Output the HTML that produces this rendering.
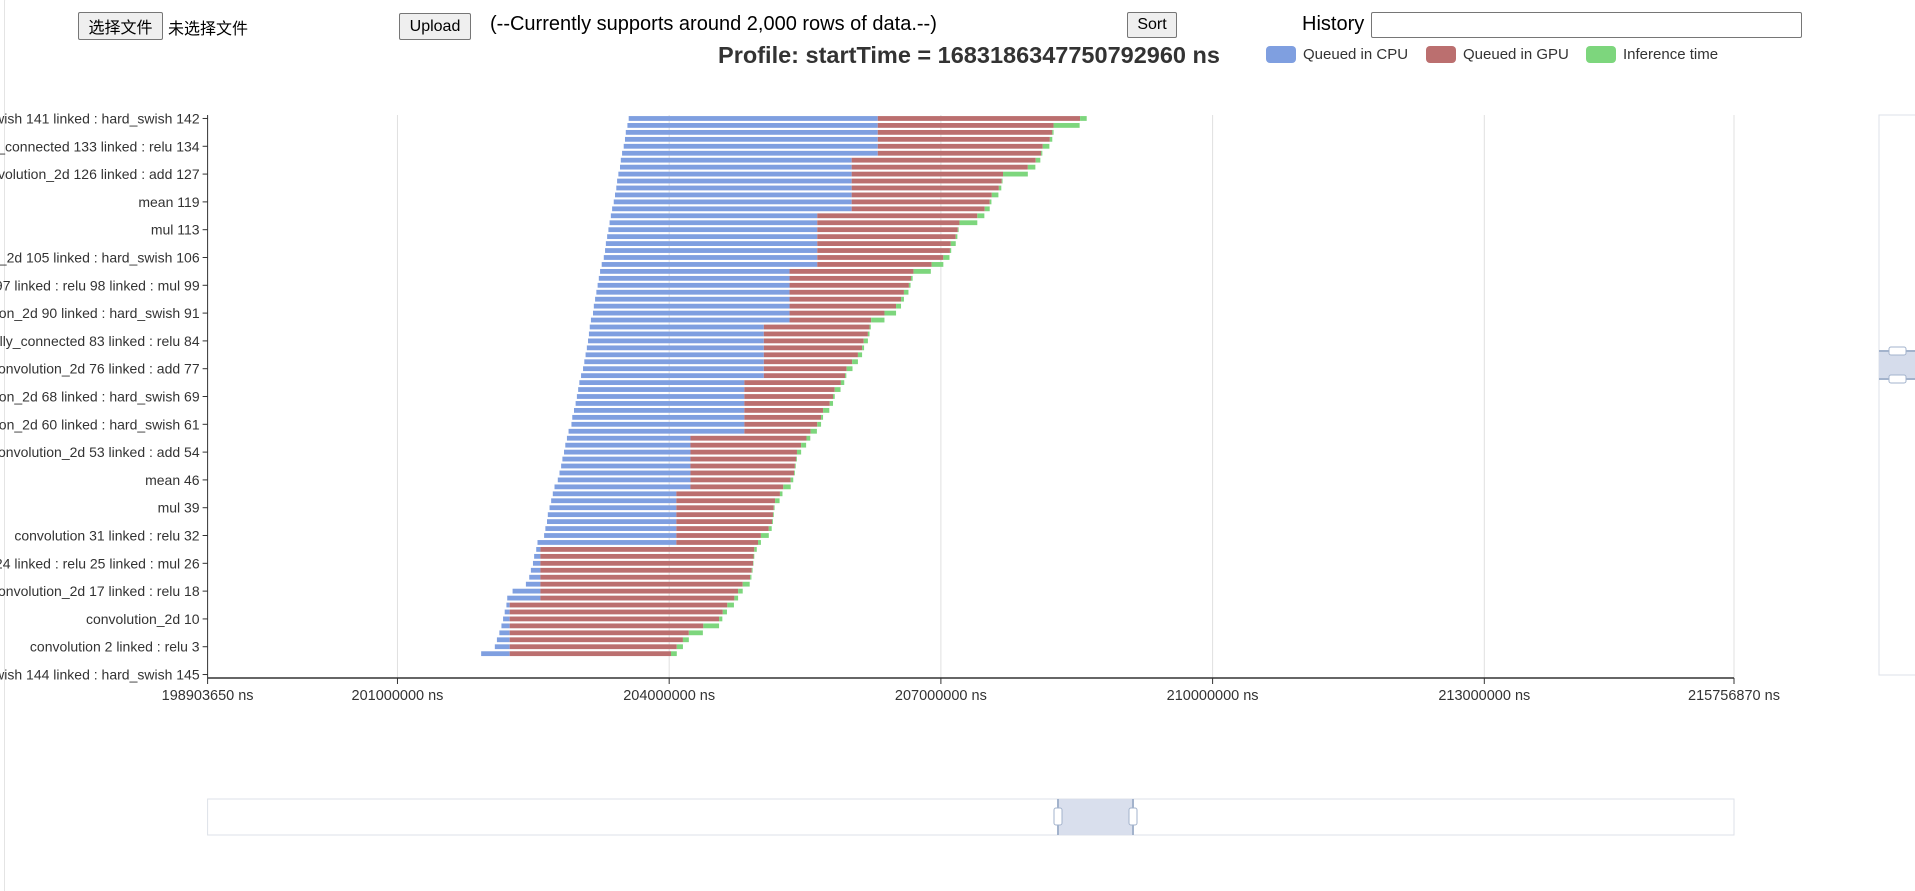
<!DOCTYPE html>
<html><head><meta charset="utf-8"><style>
html,body{margin:0;padding:0;width:1915px;height:854px;overflow:hidden;background:#fff;font-family:"Liberation Sans","Noto Sans CJK SC",sans-serif;}
#wrap{position:absolute;left:4px;top:-10px;width:1930px;height:900px;border:1px solid #e4e4e4;border-bottom:none;border-radius:12px 12px 0 0;}
.btn{position:absolute;background:#efefef;border:1px solid #767676;border-radius:2px;font-size:16px;color:#000;display:flex;align-items:center;justify-content:center;box-sizing:border-box;}
.txt{position:absolute;white-space:nowrap;color:#000;}
</style></head><body>
<div id="wrap"></div>
<div class="btn" style="left:78px;top:12px;width:85px;height:28px;">选择文件</div>
<div class="txt" style="left:168px;top:15px;font-size:16px;">未选择文件</div>
<div class="btn" style="left:399px;top:13px;width:72px;height:27px;">Upload</div>
<div class="txt" style="left:490px;top:13px;font-size:20px;">(--Currently supports around 2,000 rows of data.--)</div>
<div class="btn" style="left:1127px;top:12px;width:50px;height:26px;">Sort</div>
<div class="txt" style="left:1302px;top:13px;font-size:20px;">History</div>
<div style="position:absolute;left:1371px;top:12px;width:431px;height:26px;border:1px solid #767676;border-radius:2px;box-sizing:border-box;"></div>
<svg id="chart" width="1915" height="854" style="position:absolute;left:0;top:0;"></svg>
<script>
// values in millions of ns
const tickValues=[198.90365,201,204,207,210,213,215.75687];
const tickLabels=["198903650 ns","201000000 ns","204000000 ns","207000000 ns","210000000 ns","213000000 ns","215756870 ns"];
const categoryLabels=["hard_swish 141 linked : hard_swish 142","fully_connected 133 linked : relu 134","convolution_2d 126 linked : add 127","mean 119","mul 113","convolution_2d 105 linked : hard_swish 106","fully_connected 97 linked : relu 98 linked : mul 99","convolution_2d 90 linked : hard_swish 91","fully_connected 83 linked : relu 84","convolution_2d 76 linked : add 77","convolution_2d 68 linked : hard_swish 69","convolution_2d 60 linked : hard_swish 61","convolution_2d 53 linked : add 54","mean 46","mul 39","convolution 31 linked : relu 32","fully_connected 24 linked : relu 25 linked : mul 26","convolution_2d 17 linked : relu 18","convolution_2d 10","convolution 2 linked : relu 3","hard_swish 144 linked : hard_swish 145"];
const categoryCount=81;
const cpuStart=[203.553,203.539,203.521,203.512,203.498,203.480,203.466,203.457,203.439,203.425,203.416,203.402,203.388,203.370,203.356,203.342,203.329,203.315,203.301,203.292,203.278,203.255,203.237,203.223,203.210,203.196,203.182,203.168,203.159,203.136,203.123,203.114,203.104,203.091,203.077,203.063,203.049,203.027,203.008,202.995,202.981,202.967,202.949,202.930,202.921,202.889,202.871,202.853,202.839,202.821,202.807,202.789,202.770,202.734,202.715,202.697,202.679,202.660,202.651,202.633,202.619,202.546,202.532,202.509,202.496,202.473,202.455,202.418,202.271,202.212,202.203,202.184,202.166,202.148,202.125,202.098,202.075,201.924];
const gpuStart=[206.303,206.303,206.303,206.303,206.303,206.303,206.015,206.015,206.015,206.015,206.015,206.015,206.015,206.015,205.635,205.635,205.635,205.635,205.635,205.635,205.635,205.635,205.329,205.329,205.329,205.329,205.329,205.329,205.329,205.329,205.045,205.045,205.045,205.045,205.045,205.045,205.045,205.045,204.830,204.830,204.830,204.830,204.830,204.830,204.830,204.830,204.235,204.235,204.235,204.235,204.235,204.235,204.235,204.235,204.079,204.079,204.079,204.079,204.079,204.079,204.079,204.079,202.578,202.578,202.578,202.578,202.578,202.578,202.578,202.578,202.239,202.239,202.239,202.239,202.239,202.239,202.239,202.239];
const inferStart=[208.537,208.244,208.230,208.203,208.125,208.107,208.047,207.960,207.686,207.672,207.640,207.562,207.539,207.484,207.402,207.205,207.187,207.164,207.109,207.100,207.027,206.898,206.697,206.670,206.647,206.592,206.560,206.505,206.377,206.230,206.212,206.194,206.148,206.130,206.084,206.020,205.960,205.942,205.896,205.828,205.809,205.773,205.699,205.677,205.635,205.562,205.516,205.457,205.411,205.402,205.388,205.379,205.342,205.260,205.223,205.169,205.155,205.146,205.136,205.100,205.013,204.981,204.940,204.931,204.926,204.912,204.894,204.812,204.761,204.720,204.642,204.592,204.551,204.377,204.217,204.152,204.084,204.020];
const inferEnd=[208.610,208.532,208.244,208.230,208.198,208.120,208.098,208.043,207.960,207.681,207.667,207.635,207.558,207.539,207.480,207.402,207.196,207.182,207.164,207.114,207.095,207.027,206.889,206.688,206.665,206.642,206.592,206.560,206.505,206.377,206.226,206.212,206.194,206.152,206.130,206.084,206.024,205.956,205.933,205.892,205.828,205.809,205.768,205.699,205.677,205.631,205.558,205.512,205.457,205.411,205.397,205.388,205.370,205.342,205.251,205.219,205.164,205.155,205.146,205.132,205.100,205.013,204.967,204.940,204.931,204.921,204.908,204.889,204.812,204.761,204.715,204.638,204.587,204.551,204.372,204.217,204.152,204.084];

const NS='http://www.w3.org/2000/svg';
const svg=document.getElementById('chart');
const L=207.6,R=1734,T=115,B=678;
const xmin=tickValues[0],xmax=tickValues[tickValues.length-1];
const band=(B-T)/categoryCount;
function x(v){return L+(v-xmin)/(xmax-xmin)*(R-L);}
function y(i){return T+band*(i+0.5);}
function mk(tag,attrs,parent){const e=document.createElementNS(NS,tag);for(const k in attrs)e.setAttribute(k,attrs[k]);(parent||svg).appendChild(e);return e;}

tickValues.forEach((v,i)=>{
  if(i>0){const g=mk('line',{x1:x(v),x2:x(v),y1:T,y2:B,stroke:'#e0e0e0','stroke-width':1});
  
  }
  const tk=mk('line',{x1:x(v),x2:x(v),y1:B,y2:B+6,stroke:'#333','stroke-width':1});
  
  
  const t=mk('text',{x:x(v),y:B+22,'text-anchor':'middle','font-size':14.5,fill:'#333','font-family':'Liberation Sans, sans-serif'});
  t.textContent=tickLabels[i];
  
  
});
const cols=['#7f9fe0','#bb6f6f','#7dd67d'];
for(let i=0;i<cpuStart.length;i++){
  const segs=[[cpuStart[i],gpuStart[i]],[gpuStart[i],inferStart[i]],[inferStart[i],inferEnd[i]]];
  const names=['bar-queued-cpu','bar-queued-gpu','bar-inference'];
  segs.forEach((s,k)=>{
    const w=Math.max(0,x(s[1])-x(s[0]));
    const r=mk('rect',{x:x(s[0]),y:y(i)-2.4,width:w,height:4.8,fill:cols[k]});
    
    
  });
}
const ya=mk('line',{x1:L,x2:L,y1:T,y2:B,stroke:'#333','stroke-width':1});


categoryLabels.forEach((lab,j)=>{
  const i=j*4;
  const tk=mk('line',{x1:L-5,x2:L,y1:y(i),y2:y(i),stroke:'#333','stroke-width':1});
  
  
  const t=mk('text',{x:L-8,y:y(i)+5,'text-anchor':'end','font-size':14,fill:'#333','font-family':'Liberation Sans, sans-serif'});
  t.textContent=lab;
  
  
});
const xa=mk('line',{x1:L,x2:R,y1:B,y2:B,stroke:'#333','stroke-width':1.5});


const ti=mk('text',{x:969,y:63,'text-anchor':'middle','font-size':23.5,'font-weight':'bold',fill:'#333','font-family':'Liberation Sans, sans-serif'});
ti.textContent='Profile: startTime = 1683186347750792960 ns';


const legendNames=['Queued in CPU','Queued in GPU','Inference time'];
const legendX=[1266,1426,1586];
legendNames.forEach((n,k)=>{
  const g=mk('g',{});
  
  
  mk('rect',{x:legendX[k],y:46,width:30,height:17,rx:4,fill:cols[k]},g);
  const t=mk('text',{x:legendX[k]+37,y:59,'font-size':15,fill:'#333','font-family':'Liberation Sans, sans-serif'},g);
  t.textContent=n;
});
const dz=mk('g',{});


mk('rect',{x:L,y:799,width:R-L,height:36,fill:'none',stroke:'#dde1e8'},dz);
mk('rect',{x:1058,y:799,width:75,height:36,fill:'#d5dceb',opacity:0.9},dz);
[1058,1133].forEach(hx=>{
  mk('line',{x1:hx,x2:hx,y1:799,y2:835,stroke:'#a3b3cc','stroke-width':2},dz);
  mk('rect',{x:hx-4,y:808,width:8,height:17,rx:2,fill:'#fff',stroke:'#a3b3cc'},dz);
});
const rz=mk('g',{});


mk('rect',{x:1879,y:115,width:40,height:560,fill:'none',stroke:'#dde1e8'},rz);
mk('rect',{x:1879,y:351,width:40,height:28,fill:'#d5dceb'},rz);
[351,379].forEach(hy=>{
  mk('line',{x1:1879,x2:1919,y1:hy,y2:hy,stroke:'#a3b3cc','stroke-width':2},rz);
  mk('rect',{x:1889,y:hy-4,width:17,height:8,rx:2,fill:'#fff',stroke:'#a3b3cc'},rz);
});
</script>
</body></html>
